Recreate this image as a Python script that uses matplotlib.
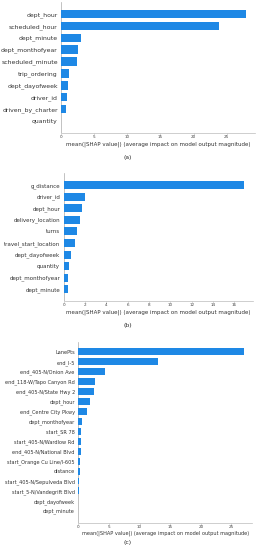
import numpy as np
import matplotlib
matplotlib.use("Agg")
import matplotlib.pyplot as plt

# (a)
feat_a = ["dept_hour", "scheduled_hour", "dept_minute", "dept_monthofyear",
          "scheduled_minute", "trip_ordering", "dept_dayofweek", "driver_id",
          "driven_by_charter", "quantity"]
val_a = [27.9, 23.9, 3.0, 2.5, 2.3, 1.2, 0.97, 0.86, 0.7, 0.02]

# (b)
feat_b = ["g_distance", "driver_id", "dept_hour", "delivery_location", "turns",
          "travel_start_location", "dept_dayofweek", "quantity",
          "dept_monthofyear", "dept_minute"]
val_b = [16.9, 2.03, 1.75, 1.56, 1.25, 1.03, 0.69, 0.5, 0.43, 0.4]

# (c)
feat_c = ["LanePts", "end_I-5", "end_405-N/Onion Ave", "end_118-W/Tapo Canyon Rd",
          "end_405-N/State Hwy 2", "dept_hour", "end_Centre City Pkwy",
          "dept_monthofyear", "start_SR 78", "start_405-N/Wardlow Rd",
          "end_405-N/National Blvd", "start_Orange Cu Line/I-605", "distance",
          "start_405-N/Sepulveda Blvd", "start_5-N/Vandegrift Blvd",
          "dept_dayofweek", "dept_minute"]
val_c = [27.0, 13.06, 4.4, 2.7, 2.53, 1.94, 1.45, 0.54, 0.5, 0.42, 0.4,
         0.3, 0.2, 0.17, 0.1, 0.03, 0.02]

ticks_a = [0, 5, 10, 15, 20, 25]
ticks_b = [0, 2, 4, 6, 8, 10, 12, 14, 16]
ticks_c = [0, 5, 10, 15, 20, 25]

W, H = 257, 550
blue = "#1E88E5"
xlab = "mean(|SHAP value|) (average impact on model output magnitude)"

fig = plt.figure(figsize=(W / 100, H / 100), dpi=100)


def panel(box, feats, vals, ticks, ybot, fs, tag, tag_y, tag_font):
    l, r, t, b = box
    ax = fig.add_axes([l / W, 1 - b / H, (r - l) / W, (b - t) / H])
    n = len(feats)
    pos = np.arange(n)[::-1]
    ax.axvline(0, color="#aaaaaa", lw=0.5, zorder=1)
    ax.barh(pos, vals, height=0.7, color=blue, zorder=2)
    ax.set_yticks(pos)
    ax.set_yticklabels(feats, fontsize=fs, color="#333333")
    ax.set_xticks(ticks)
    ax.set_xticklabels([str(t) for t in ticks], fontsize=3.0, color="#444444")
    ax.set_xlim(0, max(vals) * 1.05)
    ax.set_ylim(ybot, n)
    ax.set_xlabel(xlab, fontsize=fs - 0.4 if fs > 4 else fs, color="#333333", labelpad=1.2)
    for s in ["top", "right", "left"]:
        ax.spines[s].set_visible(False)
    ax.spines["bottom"].set_color("#bbbbbb")
    ax.spines["bottom"].set_linewidth(0.5)
    ax.tick_params(axis="y", length=0, pad=2.5)
    ax.tick_params(axis="x", length=1.2, width=0.4, color="#bbbbbb", pad=0.6)
    fig.text(0.496, 1 - tag_y / H, tag, fontsize=4.3, ha="center", va="center",
             color="#222222", family=tag_font)
    return ax


panel((61.3, 255, 2, 133), feat_a, val_a, ticks_a, -1.0, 4.4, "(a)", 157, "DejaVu Sans")
panel((63.7, 253, 173.4, 301), feat_b, val_b, ticks_b, -1.0, 4.0, "(b)", 325.7, "DejaVu Serif")
panel((78.3, 252, 342, 522.7), feat_c, val_c, ticks_c, -1.2, 3.65, "(c)", 542.7, "DejaVu Sans")

fig.savefig("out.png", dpi=100)
